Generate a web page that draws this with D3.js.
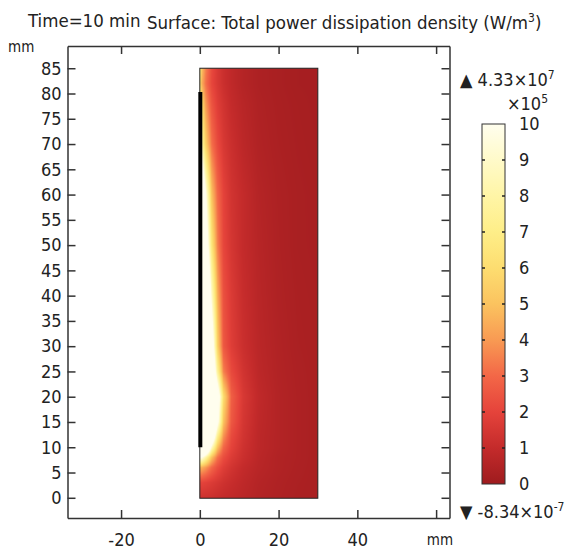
<!DOCTYPE html>
<html>
<head>
<meta charset="utf-8">
<script src="https://cdn.jsdelivr.net/npm/d3@7"></script>
<style>
  body { margin: 0; background: #fff; }
  svg text { font-family: "DejaVu Sans Condensed", "DejaVu Sans", sans-serif; fill: #222; }
</style>
</head>
<body>
<div id="chart"></div>
<script>
const gridX = [0, 0.5, 1.5, 3, 4.5, 6, 8, 11, 15, 20, 25, 30]
const gridY = [0, 3, 6, 8, 10, 12, 15, 20, 25, 30, 40, 50, 60, 70, 78, 82, 85]

// power dissipation density, units of 1e5 W/m^3, one row per gridY
const fieldRows = [
  [1.3, 1.3, 1.25, 1.2, 1.1, 1.0, 0.9, 0.75, 0.55, 0.42, 0.33, 0.3],
  [2, 2, 1.9, 1.7, 1.5, 1.3, 1.1, 0.85, 0.6, 0.45, 0.35, 0.3],
  [4.5, 4.5, 4, 3, 2.3, 1.8, 1.4, 1.0, 0.7, 0.5, 0.38, 0.3],
  [10, 10, 8, 5, 3.2, 2.3, 1.7, 1.2, 0.75, 0.5, 0.4, 0.3],
  [20, 20, 16, 9, 5, 3, 2, 1.3, 0.8, 0.55, 0.4, 0.3],
  [25, 25, 22, 13, 7, 3.8, 2.2, 1.4, 0.8, 0.55, 0.4, 0.3],
  [25, 25, 25, 17, 10.5, 5, 2.6, 1.5, 0.85, 0.55, 0.4, 0.3],
  [25, 25, 25, 18, 12, 6, 2.8, 1.6, 0.9, 0.55, 0.4, 0.3],
  [25, 25, 22, 14, 7.5, 3.5, 2.2, 1.4, 0.8, 0.52, 0.38, 0.3],
  [25, 25, 20, 12, 5.5, 2.6, 1.8, 1.2, 0.75, 0.5, 0.35, 0.3],
  [22, 22, 16, 9, 4.5, 2.4, 1.7, 1.1, 0.7, 0.45, 0.33, 0.28],
  [19, 17, 12, 6.5, 3.5, 2.1, 1.5, 1.0, 0.65, 0.42, 0.3, 0.26],
  [16, 14, 10, 5, 3, 2, 1.4, 1.0, 0.6, 0.4, 0.3, 0.25],
  [10, 8, 5.5, 3.2, 2.2, 1.6, 1.2, 0.8, 0.5, 0.35, 0.27, 0.22],
  [8, 6, 4, 2.5, 1.8, 1.4, 1.0, 0.7, 0.45, 0.32, 0.25, 0.2],
  [6, 4.5, 3.2, 2.1, 1.6, 1.2, 0.9, 0.6, 0.4, 0.3, 0.22, 0.2],
  [7, 5, 3.5, 2.2, 1.6, 1.2, 0.9, 0.6, 0.4, 0.3, 0.22, 0.2]
]

// geometry of the domain and the coil line (mm)
const domainBox = [0, 30, 0, 85]
const coilLine = [10, 80.3]

const xTicks = [-20, 0, 20, 40, 60]
const xLabels = ["-20", "0", "20", "40", ""]   // last tick carries the "mm" unit instead
const yTicks = d3.range(0, 86, 5)
const barTicks = [0, 1, 2, 3, 4, 5, 6, 7, 8, 9, 10]
const barColors = ["#9e1b1e", "#c42b2b", "#e5433b", "#f36747", "#f89a53", "#fbc35f",
                   "#fddd70", "#feee88", "#fff5a6", "#fffac9", "#fffeee"]

const W = 571, H = 551

const svg = d3.select("#chart").append("svg").attr("width", W).attr("height", H)

const scX = d3.scaleLinear().domain([-33.6, 63.4]).range([67.5, 449.5])
const scY = d3.scaleLinear().domain([-4.0, 89.4]).range([518, 46])
const color = d3.scaleLinear().domain(barTicks).range(barColors).clamp(true)

// --- field image (bilinear between read-off grid values) ---
function fieldAt(x, y) {
  let i = Math.min(Math.max(d3.bisectRight(gridX, x) - 1, 0), gridX.length - 2)
  let j = Math.min(Math.max(d3.bisectRight(gridY, y) - 1, 0), gridY.length - 2)
  let tx = (x - gridX[i]) / (gridX[i + 1] - gridX[i])
  let ty = (y - gridY[j]) / (gridY[j + 1] - gridY[j])
  tx = Math.max(0, Math.min(1, tx)); ty = Math.max(0, Math.min(1, ty))
  let a = fieldRows[j][i], b = fieldRows[j][i + 1]
  let c = fieldRows[j + 1][i], d = fieldRows[j + 1][i + 1]
  return (a * (1 - tx) + b * tx) * (1 - ty) + (c * (1 - tx) + d * tx) * ty
}

let px0 = scX(domainBox[0]), px1 = scX(domainBox[1])
let py0 = scY(domainBox[3]), py1 = scY(domainBox[2])
let cw = Math.round(px1 - px0), ch = Math.round(py1 - py0)
let canvas = document.createElement("canvas")
canvas.width = cw; canvas.height = ch
let ctx = canvas.getContext("2d")
let img = ctx.createImageData(cw, ch)
for (let r = 0; r < ch; r++) {
  for (let c = 0; c < cw; c++) {
    let v = fieldAt(scX.invert(px0 + c + 0.5), scY.invert(py0 + r + 0.5))
    let col = d3.rgb(color(v))
    let k = (r * cw + c) * 4
    img.data[k] = col.r; img.data[k + 1] = col.g; img.data[k + 2] = col.b; img.data[k + 3] = 255
  }
}
ctx.putImageData(img, 0, 0)

svg.append("image")
  .attr("x", px0).attr("y", py0).attr("width", cw).attr("height", ch)
  .attr("preserveAspectRatio", "none")
  .attr("href", canvas.toDataURL())

svg.append("rect")
  .attr("x", px0).attr("y", py0).attr("width", cw).attr("height", ch)
  .attr("fill", "none").attr("stroke", "#222").attr("stroke-width", 1)

// coil boundary (thick black)
svg.append("line")
  .attr("x1", scX(0) + 0.5).attr("x2", scX(0) + 0.5)
  .attr("y1", scY(coilLine[0])).attr("y2", scY(coilLine[1]))
  .attr("stroke", "#000").attr("stroke-width", 4)

// --- frame with inward ticks ---
const frame = svg.append("g")
frame.append("g").attr("transform", `translate(0,${scY.range()[0]})`)
  .call(d3.axisBottom(scX).tickValues(xTicks).tickSize(-8).tickSizeOuter(0).tickPadding(15)
    .tickFormat((d, i) => xLabels[i]))
frame.append("g").attr("transform", `translate(0,${scY.range()[1]})`)
  .call(d3.axisTop(scX).tickValues(xTicks).tickSize(-8).tickSizeOuter(0).tickFormat(""))
frame.append("g").attr("transform", `translate(${scX.range()[0]},0)`)
  .call(d3.axisLeft(scY).tickValues(yTicks).tickSize(-8).tickSizeOuter(0).tickPadding(6))
frame.append("g").attr("transform", `translate(${scX.range()[1]},0)`)
  .call(d3.axisRight(scY).tickValues(yTicks).tickSize(-8).tickSizeOuter(0).tickFormat(""))
frame.selectAll(".domain, .tick line").attr("stroke", "#333").attr("stroke-width", 1.5)
frame.selectAll(".tick text").style("font-size", "18px").attr("fill", "#222")
  .style("font-family", "'DejaVu Sans Condensed', 'DejaVu Sans', sans-serif")

svg.append("text").attr("x", 8).attr("y", 52).style("font-size", "15px").text("mm")
svg.append("text").attr("x", 440).attr("y", 545).attr("text-anchor", "middle").style("font-size", "15px").text("mm")

// --- titles ---
svg.append("text").attr("x", 28).attr("y", 27).style("font-size", "18.5px").text("Time=10 min")
let t2 = svg.append("text").attr("x", 147).attr("y", 29).style("font-size", "18.5px")
t2.append("tspan").text("Surface: Total power dissipation density (W/m")
t2.append("tspan").attr("dy", -7).style("font-size", "12px").text("3")
t2.append("tspan").attr("dy", 7).text(")")

// --- colour bar ---
const barX = 482, barW = 23
const scBar = d3.scaleLinear().domain([0, 10]).range([484, 124])
let grad = svg.append("defs").append("linearGradient").attr("id", "barGrad")
  .attr("x1", 0).attr("y1", 1).attr("x2", 0).attr("y2", 0)
grad.selectAll("stop").data(barTicks).enter().append("stop")
  .attr("offset", d => d / 10).attr("stop-color", d => barColors[d])
svg.append("rect")
  .attr("x", barX).attr("y", scBar(10)).attr("width", barW).attr("height", scBar(0) - scBar(10))
  .attr("fill", "url(#barGrad)").attr("stroke", "#333").attr("stroke-width", 1)
let inner = barTicks.slice(1, -1)
svg.append("g").selectAll("line.l").data(inner).enter().append("line")
  .attr("x1", barX).attr("x2", barX + 3).attr("y1", d => scBar(d)).attr("y2", d => scBar(d))
  .attr("stroke", "#222").attr("stroke-width", 1.5)
svg.append("g").selectAll("line.r").data(inner).enter().append("line")
  .attr("x1", barX + barW - 3).attr("x2", barX + barW).attr("y1", d => scBar(d)).attr("y2", d => scBar(d))
  .attr("stroke", "#222").attr("stroke-width", 1.5)
svg.append("g").selectAll("text").data(barTicks).enter().append("text")
  .attr("x", 519).attr("y", d => scBar(d) + 6)
  .style("font-size", "18px").text(d => d)

// max / min annotations
let tmax = svg.append("text").attr("x", 460).attr("y", 86).style("font-size", "18px")
tmax.append("tspan").text("\u25B2 4.33\u00D710")
tmax.append("tspan").attr("dy", -7).style("font-size", "12px").text("7")
let tsc = svg.append("text").attr("x", 507).attr("y", 110).style("font-size", "18px")
tsc.append("tspan").text("\u00D710")
tsc.append("tspan").attr("dy", -7).style("font-size", "12px").text("5")
let tmin = svg.append("text").attr("x", 460).attr("y", 518).style("font-size", "18px")
tmin.append("tspan").text("\u25BC -8.34\u00D710")
tmin.append("tspan").attr("dy", -7).style("font-size", "12px").text("-7")
</script>
</body>
</html>
